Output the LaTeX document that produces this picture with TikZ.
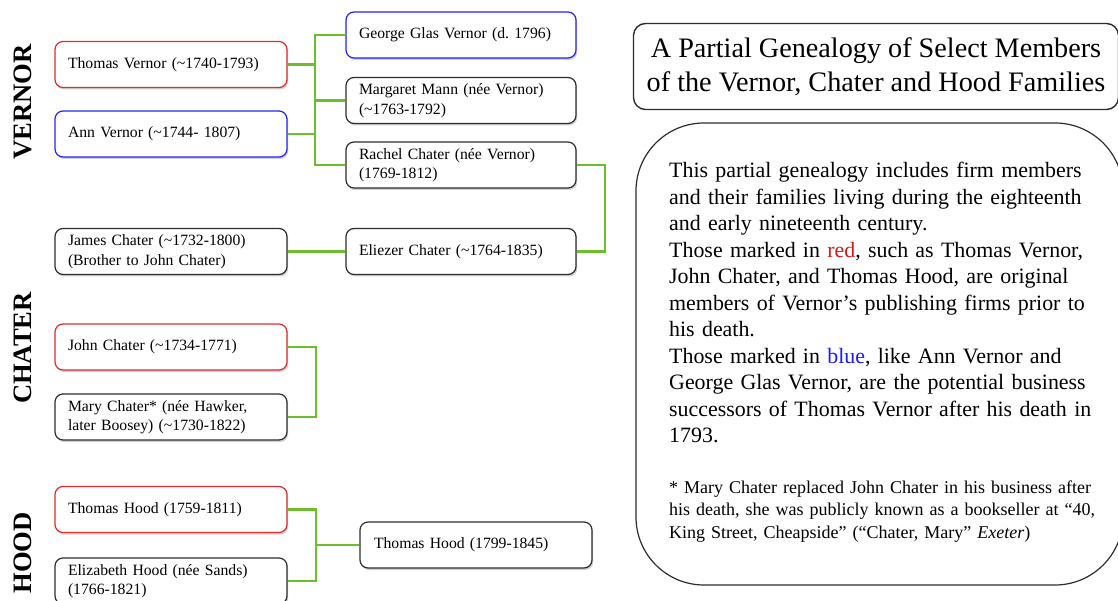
\documentclass[tikz,border=0pt]{standalone}
\usepackage{fontspec}
\setmainfont{Liberation Serif}
\usetikzlibrary{shadows,calc}
\definecolor{bred}{RGB}{222,45,45}
\definecolor{bblue}{RGB}{35,35,245}
\definecolor{bgray}{RGB}{45,45,45}
\definecolor{lgreen}{RGB}{108,190,45}
\definecolor{tred}{RGB}{210,25,25}
\definecolor{tblue}{RGB}{25,25,250}
\newcommand\approxmark{\textasciitilde{}}
\frenchspacing
\begin{document}
\begin{tikzpicture}[x=1pt,y=-1pt,
  person/.style={draw=bgray, rounded corners=8pt, line width=1.2pt, fill=white,
    minimum height=46pt, text width=206pt, inner xsep=13pt, inner ysep=3pt,
    align=left, font=\fontsize{15.7}{19.5}\selectfont,
    drop shadow={shadow xshift=1.2pt, shadow yshift=-2pt, opacity=0.18, fill=black}},
  midperson/.style={person, text width=204pt},
  redbox/.style={draw=bred},
  bluebox/.style={draw=bblue},
  conn/.style={draw=lgreen, line width=2.4pt},
  famlabel/.style={rotate=90, inner sep=0, font=\fontsize{26.6}{30}\selectfont\bfseries},
  titlebox/.style={draw=bgray, line width=1.4pt, rounded corners=12pt, fill=white,
    minimum width=485pt, minimum height=86pt, align=center, inner sep=0,
    font=\fontsize{28.2}{34}\selectfont},
  infobox/.style={draw=bgray, line width=1.2pt, rounded corners=68pt,
    minimum width=487pt, minimum height=462pt},
  bodytext/.style={anchor=base west, inner sep=0, text width=445pt, align=left,
    font=\fontsize{21.9}{26.5}\selectfont},
  notetext/.style={anchor=base west, inner sep=0, text width=445pt, align=left,
    font=\fontsize{18}{22.5}\selectfont}
]
\useasboundingbox (0,0) rectangle (1118,601);

% family labels
\node[famlabel] (lv) at (22.5,102) {VERNOR};
\node[famlabel] (lc) at (22.5,348) {CHATER};
\node[famlabel] (lh) at (22.5,553) {HOOD};

% Vernor family
\node[person, redbox]  (tv)   at (171,64.5)  {Thomas Vernor (\approxmark1740-1793)};
\node[person, bluebox] (ann)  at (171,134)   {Ann Vernor (\approxmark1744- 1807)};
\node[midperson, bluebox] (geo) at (461,35)  {George Glas Vernor (d. 1796)};
\node[midperson] (mar)  at (461,100.5) {Margaret Mann (née Vernor)\\(\approxmark1763-1792)};
\node[midperson] (rach) at (461,165)   {Rachel Chater (née Vernor)\\(1769-1812)};
\node[midperson] (eli)  at (461,251.5) {Eliezer Chater (\approxmark1764-1835)};
\node[person] (jam) at (171,251.5) {James Chater (\approxmark1732-1800)\\(Brother to John Chater)};

% Chater family
\node[person, redbox] (john) at (171,347) {John Chater (\approxmark1734-1771)};
\node[person] (mary) at (171,417) {Mary Chater* (née Hawker,\\later Boosey) (\approxmark1730-1822)};

% Hood family
\node[person, redbox] (th) at (171,509.5) {Thomas Hood (1759-1811)};
\node[person] (eliz) at (171,581) {Elizabeth Hood (née Sands)\\(1766-1821)};
\node[person, inner xsep=14pt, text width=204pt] (th2) at (476,545) {Thomas Hood (1799-1845)};

% bus coordinates
\coordinate (vbus) at (315,0);
\coordinate (rbus) at (605,0);
\coordinate (cbus) at (316,0);
\coordinate (hbus) at (316,0);

% connectors
\draw[conn] (tv.east) -- (tv.east -| vbus) -- (ann.east -| vbus) -- (ann.east);
\draw[conn] (geo.west) -- (geo.west -| vbus) -- (rach.west -| vbus) -- (rach.west);
\draw[conn] (mar.west) -- (mar.west -| vbus);
\draw[conn] (rach.east) -- (rach.east -| rbus) -- (eli.east -| rbus) -- (eli.east);
\draw[conn] (jam.east) -- (eli.west);
\draw[conn] (john.east) -- (john.east -| cbus) -- (mary.east -| cbus) -- (mary.east);
\draw[conn] (th.east) -- (th.east -| hbus) -- (eliz.east -| hbus) -- (eliz.east);
\draw[conn] (th2.west) -- (th2.west -| hbus);

% right side
\node[titlebox] (title) at (876,66.5) {A Partial Genealogy of Select Members\\of the Vernor, Chater and Hood Families};
\node[infobox] (info) at (879.5,354) {};
\node[bodytext] (body) at (669,178) {This partial genealogy includes firm members\\
and their families living during the eighteenth\\
and early nineteenth century.\\
Those marked in {\color{tred}red}, such as Thomas Vernor,\\
John Chater, and Thomas Hood, are original\\
members of Vernor’s publishing firms prior to\\
his death.\\
Those marked in {\color{tblue}blue}, like Ann Vernor and\\
George Glas Vernor, are the potential business\\
successors of Thomas Vernor after his death in\\
1793.};
\node[notetext] (note) at (669,493) {* Mary Chater replaced John Chater in his business after\\
his death, she was publicly known as a bookseller at “40,\\
King Street, Cheapside” (“Chater, Mary” \textit{Exeter})};
\end{tikzpicture}
\end{document}
